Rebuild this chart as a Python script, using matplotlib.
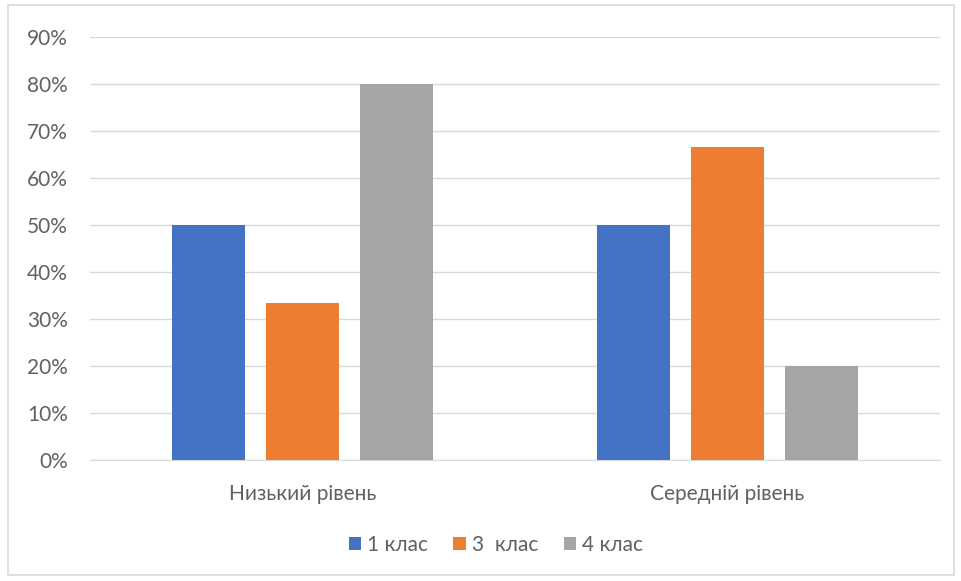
import matplotlib.pyplot as plt
import numpy as np
from matplotlib.patches import Rectangle
from matplotlib.ticker import PercentFormatter

categories = ["Низький рівень", "Середній рівень"]
series_names = ["1 клас", "3  клас", "4 клас"]
class1 = [0.50, 0.50]
class3 = [0.333, 0.667]
class4 = [0.80, 0.20]
yticks = [0.0, 0.1, 0.2, 0.3, 0.4, 0.5, 0.6, 0.7, 0.8, 0.9]

colors = ["#4472C4", "#ED7D31", "#A5A5A5"]
text_color = "#616161"

plt.rcParams["font.family"] = ["Lato", "DejaVu Sans"]

fig = plt.figure(figsize=(9.61, 5.81), dpi=100)
ax = fig.add_axes([0.0937, 0.2083, 0.8845, 0.728])

x = np.arange(len(categories))
width = 0.172
step = 0.222
for i, (vals, name) in enumerate(zip([class1, class3, class4], series_names)):
    ax.bar(x + (i - 1) * step, vals, width, color=colors[i], label=name, zorder=3)

ax.set_xlim(-0.5, 1.5)
ax.set_ylim(0, 0.9)
ax.set_yticks(yticks)
ax.yaxis.set_major_formatter(PercentFormatter(1.0, decimals=0))
ax.set_xticks(x)
ax.set_xticklabels(categories)
ax.grid(axis="y", color="#D9D9D9", linewidth=1, zorder=0)
ax.tick_params(axis="both", length=0, labelsize=15, labelcolor=text_color)
ax.tick_params(axis="x", pad=17)
ax.tick_params(axis="y", pad=16)
for side in ["top", "right", "left"]:
    ax.spines[side].set_visible(False)
ax.spines["bottom"].set_color("#D9D9D9")

ax.legend(loc="center", ncol=3, frameon=False, fontsize=15,
          handlelength=0.6, handleheight=0.6, handletextpad=0.3,
          columnspacing=1.2, labelcolor=text_color)
leg = ax.get_legend()
leg.set_bbox_to_anchor((496 / 961, 1 - 545 / 581), transform=fig.transFigure)

fig.patches.append(Rectangle((8 / 961, 6 / 581), 946 / 961, 570 / 581,
                             transform=fig.transFigure, fill=False,
                             edgecolor="#D9D9D9", linewidth=1.2))

fig.savefig("out.png", dpi=100)
